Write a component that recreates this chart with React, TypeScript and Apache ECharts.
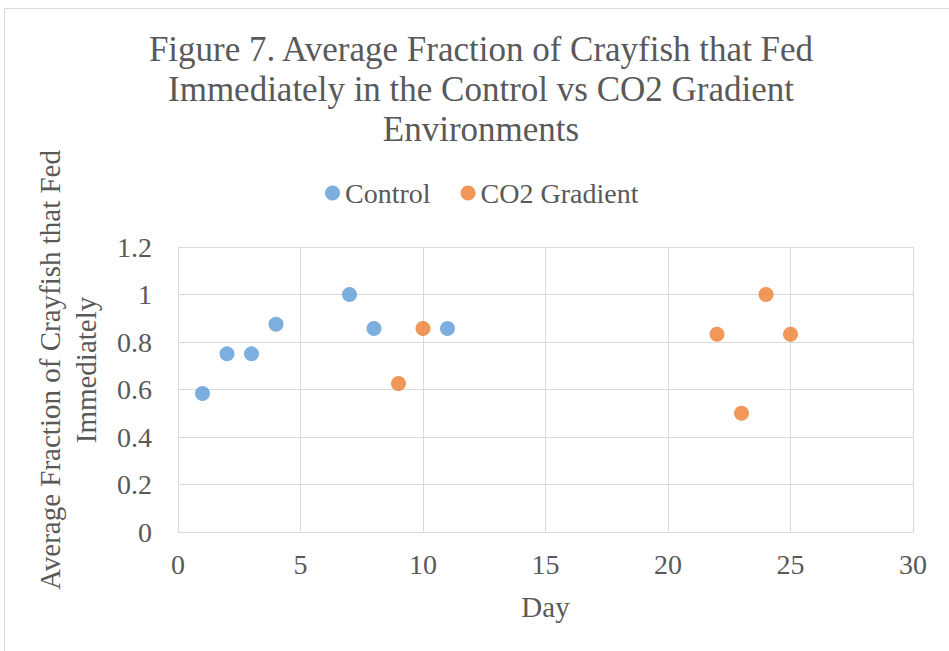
import React, { useEffect, useRef } from "react";
import * as echarts from "echarts";

const controlDays = [1, 2, 3, 4, 7, 8, 11];
const controlValues = [0.583, 0.75, 0.75, 0.875, 1.0, 0.857, 0.857];
const co2Days = [9, 10, 22, 23, 24, 25];
const co2Values = [0.625, 0.857, 0.833, 0.5, 1.0, 0.833];
const seriesNames = ["Control", "CO2 Gradient"];
const titleText = "Figure 7. Average Fraction of Crayfish that Fed\nImmediately in the Control vs CO2 Gradient\nEnvironments";
const xTitle = "Day";
const yTitle = "Average Fraction of Crayfish that Fed\nImmediately";

const FONT = "'Liberation Serif', 'Times New Roman', serif";
const TXT = "#595959";

export default function App() {
  const ref = useRef<HTMLDivElement>(null);
  useEffect(() => {
    if (!ref.current) return;
    const chart = echarts.init(ref.current, null, { renderer: "svg" });
    chart.setOption({
      animation: false,
      backgroundColor: "#ffffff",
      textStyle: { fontFamily: FONT },
      graphic: [
        {
          type: "rect",
          shape: { x: 4.5, y: 8.5, width: 1000, height: 700 },
          style: { fill: "none", stroke: "#d9d9d9", lineWidth: 1 },
          silent: true,
        },
        {
          type: "text",
          x: 68,
          y: 370,
          rotation: Math.PI / 2,
          style: {
            text: yTitle,
            fill: TXT,
            font: `29px ${FONT}`,
            lineHeight: 36,
            align: "center",
            verticalAlign: "middle",
          },
          silent: true,
        },
      ],
      title: {
        text: titleText,
        left: 476,
        top: 24,
        textAlign: "center",
        textStyle: {
          fontFamily: FONT,
          fontSize: 35,
          fontWeight: "normal",
          color: TXT,
          lineHeight: 40,
        },
      },
      legend: {
        top: 174,
        left: 320,
        itemGap: 30,
        itemWidth: 15,
        itemHeight: 15,
        icon: "circle",
        textStyle: { fontFamily: FONT, fontSize: 28, color: TXT },
        data: seriesNames,
      },
      grid: { left: 178, right: 36, top: 247, bottom: 119, containLabel: false },
      xAxis: {
        type: "value",
        min: 0,
        max: 30,
        interval: 5,
        name: xTitle,
        nameLocation: "middle",
        nameGap: 60,
        nameTextStyle: { fontFamily: FONT, fontSize: 29, color: TXT },
        axisLine: { show: true, lineStyle: { color: "#d9d9d9", width: 1 } },
        axisTick: { show: false },
        splitLine: { show: true, lineStyle: { color: "#d9d9d9", width: 1 } },
        axisLabel: { fontFamily: FONT, fontSize: 28, color: TXT, margin: 18 },
      },
      yAxis: {
        type: "value",
        min: 0,
        max: 1.2,
        interval: 0.2,
        axisLine: { show: true, lineStyle: { color: "#d9d9d9", width: 1 } },
        axisTick: { show: false },
        splitLine: { show: true, lineStyle: { color: "#d9d9d9", width: 1 } },
        axisLabel: {
          fontFamily: FONT,
          fontSize: 28,
          color: TXT,
          margin: 26,
          formatter: (v: number) => String(Math.round(v * 10) / 10),
        },
      },
      series: [
        {
          name: seriesNames[0],
          type: "scatter",
          symbol: "circle",
          symbolSize: 15,
          itemStyle: { color: "#5B9BD5" },
          data: controlDays.map((d, i) => [d, controlValues[i]]),
        },
        {
          name: seriesNames[1],
          type: "scatter",
          symbol: "circle",
          symbolSize: 15,
          itemStyle: { color: "#ED7D31" },
          data: co2Days.map((d, i) => [d, co2Values[i]]),
        },
      ],
    });
    return () => chart.dispose();
  }, []);
  return (
    <div
      ref={ref}
      style={{ position: "absolute", left: 0, top: 0, width: 949, height: 651 }}
    />
  );
}
